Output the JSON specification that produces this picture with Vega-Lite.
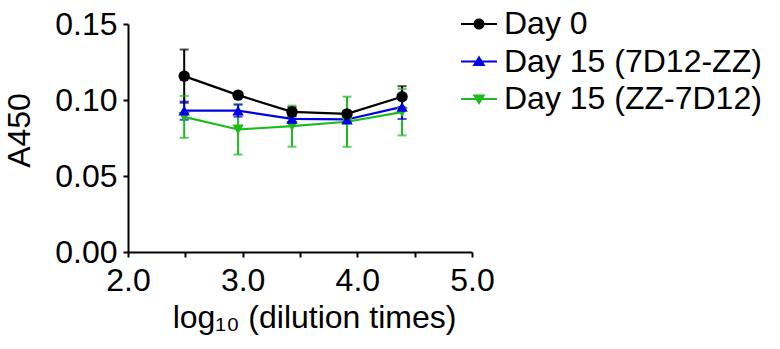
{
  "$schema": "https://vega.github.io/schema/vega-lite/v6.json",
  "width": 344,
  "height": 228,
  "autosize": {"type": "none"},
  "padding": {"left": 128, "top": 24, "right": 308, "bottom": 97},
  "background": "white",
  "config": {
    "view": {"stroke": null},
    "font": "Liberation Sans",
    "axis": {
      "grid": false,
      "domainColor": "black",
      "domainWidth": 2,
      "tickColor": "black",
      "tickWidth": 2,
      "tickSize": 5,
      "labelColor": "black",
      "labelFontSize": 32,
      "labelFont": "Liberation Sans",
      "titleFont": "Liberation Sans",
      "titleFontSize": 32,
      "titleFontWeight": "normal",
      "titleColor": "black"
    }
  },
  "data": {
    "values": [
      {"series": "Day 15 (ZZ-7D12)", "x": 2.49, "y": 0.0889, "lo": 0.0751, "hi": 0.1027},
      {"series": "Day 15 (ZZ-7D12)", "x": 2.96, "y": 0.0806, "lo": 0.0641, "hi": 0.0971},
      {"series": "Day 15 (ZZ-7D12)", "x": 3.43, "y": 0.0828, "lo": 0.0693, "hi": 0.0963},
      {"series": "Day 15 (ZZ-7D12)", "x": 3.91, "y": 0.0857, "lo": 0.0692, "hi": 0.1022},
      {"series": "Day 15 (ZZ-7D12)", "x": 4.39, "y": 0.0920, "lo": 0.0767, "hi": 0.1073},
      {"series": "Day 15 (7D12-ZZ)", "x": 2.49, "y": 0.0930, "lo": 0.0870, "hi": 0.0990},
      {"series": "Day 15 (7D12-ZZ)", "x": 2.96, "y": 0.0930, "lo": 0.0890, "hi": 0.0970},
      {"series": "Day 15 (7D12-ZZ)", "x": 3.43, "y": 0.0876, "lo": 0.0856, "hi": 0.0896},
      {"series": "Day 15 (7D12-ZZ)", "x": 3.91, "y": 0.0872, "lo": 0.0852, "hi": 0.0892},
      {"series": "Day 15 (7D12-ZZ)", "x": 4.39, "y": 0.0955, "lo": 0.0875, "hi": 0.1035},
      {"series": "Day 0", "x": 2.49, "y": 0.1157, "lo": 0.0982, "hi": 0.1332},
      {"series": "Day 0", "x": 2.96, "y": 0.1032, "lo": 0.1017, "hi": 0.1047},
      {"series": "Day 0", "x": 3.43, "y": 0.0922, "lo": 0.0892, "hi": 0.0952},
      {"series": "Day 0", "x": 3.91, "y": 0.0909, "lo": 0.0894, "hi": 0.0924},
      {"series": "Day 0", "x": 4.39, "y": 0.1021, "lo": 0.0951, "hi": 0.1091}
    ]
  },
  "encoding": {
    "x": {
      "field": "x",
      "type": "quantitative",
      "scale": {"domain": [2, 5], "nice": false, "zero": false},
      "axis": {
        "title": "log₁₀ (dilution times)",
        "values": [2, 2.5, 3, 3.5, 4, 4.5, 5],
        "labelExpr": "datum.value % 1 === 0 ? format(datum.value, '.1f') : ''",
        "labelPadding": 8,
        "titlePadding": 6,
        "titleX": 186,
        "labelFlush": false,
        "labelOverlap": false
      }
    },
    "color": {
      "field": "series",
      "type": "nominal",
      "scale": {
        "domain": ["Day 0", "Day 15 (7D12-ZZ)", "Day 15 (ZZ-7D12)"],
        "range": ["#000000", "#0000e6", "#1cbc1c"]
      },
      "legend": {
        "orient": "none",
        "legendX": 335,
        "legendY": -16,
        "title": null,
        "padding": 0,
        "symbolSize": 400,
        "symbolStrokeWidth": 0,
        "symbolOpacity": 1,
        "labelFontSize": 32,
        "labelFont": "Liberation Sans",
        "labelColor": "black",
        "labelOffset": 9,
        "labelLimit": 0,
        "rowPadding": 5.5
      }
    }
  },
  "layer": [
    {
      "mark": {"type": "line", "strokeWidth": 2.2},
      "encoding": {
        "y": {
          "field": "y",
          "type": "quantitative",
          "scale": {"domain": [0, 0.15], "nice": false},
          "axis": {
            "title": "A450",
            "values": [0, 0.05, 0.1, 0.15],
            "format": ".2f",
            "labelPadding": 6,
            "titlePadding": 18,
            "titleY": 106
          }
        }
      }
    },
    {
      "mark": {"type": "rule", "strokeWidth": 2},
      "encoding": {
        "y": {"field": "lo", "type": "quantitative", "title": "A450"},
        "y2": {"field": "hi"}
      }
    },
    {
      "mark": {"type": "tick", "orient": "horizontal", "size": 9, "thickness": 2},
      "encoding": {
        "y": {"field": "lo", "type": "quantitative", "title": "A450"}
      }
    },
    {
      "mark": {"type": "tick", "orient": "horizontal", "size": 9, "thickness": 2},
      "encoding": {
        "y": {"field": "hi", "type": "quantitative", "title": "A450"}
      }
    },
    {
      "transform": [{"filter": {"field": "series", "equal": "Day 15 (ZZ-7D12)"}}],
      "mark": {"type": "point", "filled": true, "size": 130, "opacity": 1, "shape": "triangle-down"},
      "encoding": {
        "y": {"field": "y", "type": "quantitative", "title": "A450"}
      }
    },
    {
      "transform": [{"filter": {"field": "series", "equal": "Day 15 (7D12-ZZ)"}}],
      "mark": {"type": "point", "filled": true, "size": 130, "opacity": 1, "shape": "triangle-up"},
      "encoding": {
        "y": {"field": "y", "type": "quantitative", "title": "A450"}
      }
    },
    {
      "transform": [{"filter": {"field": "series", "equal": "Day 0"}}],
      "mark": {"type": "point", "filled": true, "size": 130, "opacity": 1, "shape": "circle"},
      "encoding": {
        "y": {"field": "y", "type": "quantitative", "title": "A450"}
      }
    },
    {
      "data": {"values": []},
      "mark": {"type": "point", "filled": true, "size": 400, "opacity": 1, "strokeWidth": 0},
      "encoding": {
        "y": {"field": "y", "type": "quantitative", "title": "A450"},
        "shape": {
          "field": "series",
          "type": "nominal",
          "scale": {
            "domain": ["Day 0", "Day 15 (7D12-ZZ)", "Day 15 (ZZ-7D12)"],
            "range": [
              "M-1.8,-0.1H1.8V0.1H-1.8Z M-0.55,0A0.55,0.55 0 1 1 0.55,0A0.55,0.55 0 1 1 -0.55,0Z",
              "M-1.8,-0.1H1.8V0.1H-1.8Z M0,-0.6L0.65,0.45L-0.65,0.45Z",
              "M-1.8,-0.1H1.8V0.1H-1.8Z M0,0.6L-0.65,-0.45L0.65,-0.45Z"
            ]
          }
        }
      }
    }
  ]
}
